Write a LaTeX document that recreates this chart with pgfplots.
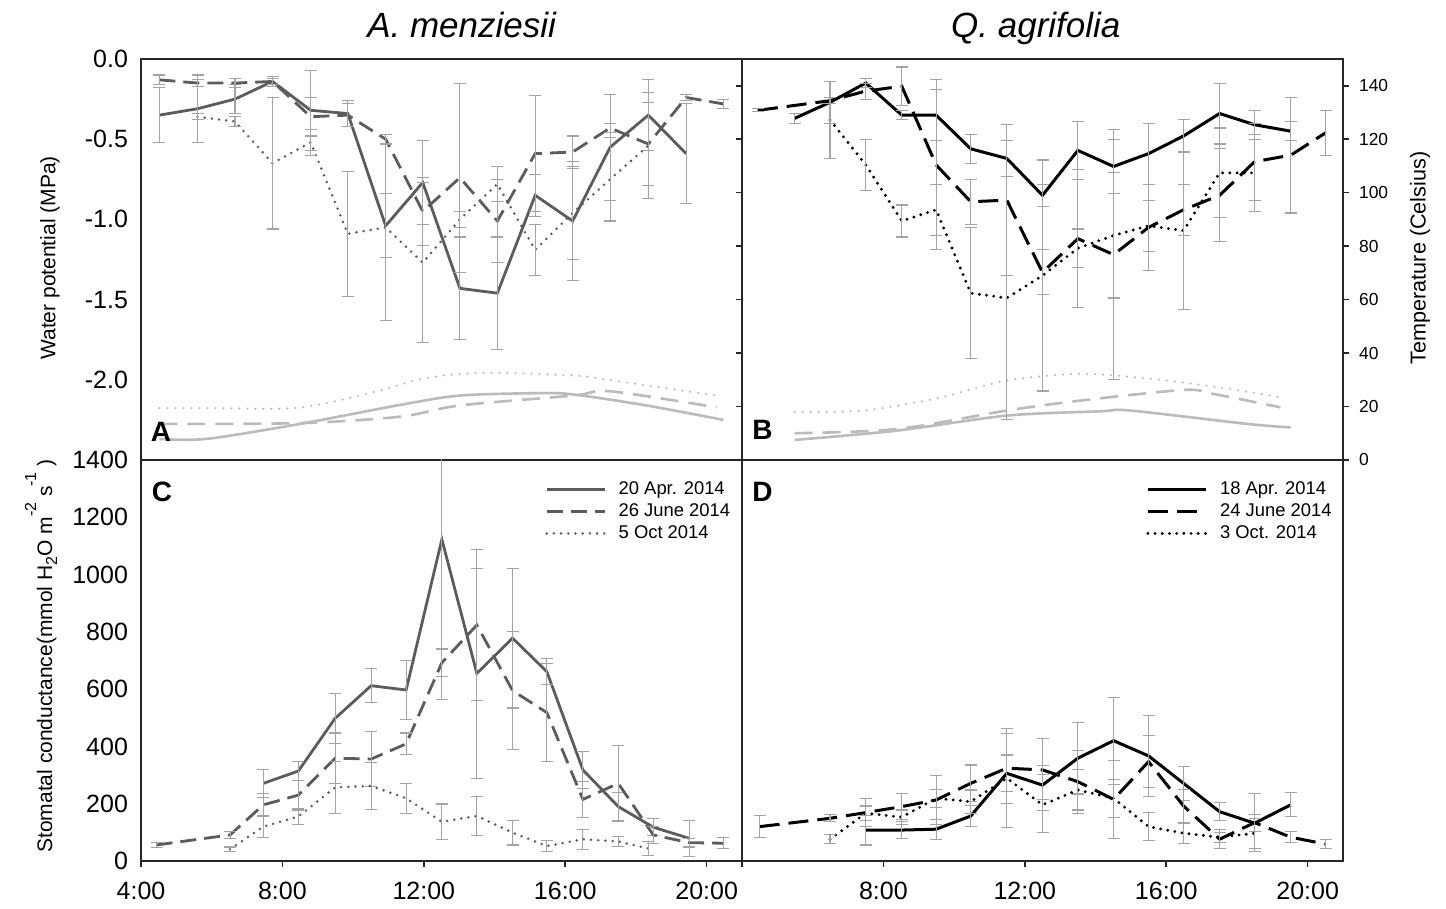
\documentclass[border=0pt]{standalone}
\usepackage{pgfplots}
\pgfplotsset{compat=1.18}
\usepackage{fontspec}
\setmainfont{Liberation Sans}
\definecolor{ln}{HTML}{5C5C5C}
\definecolor{eb}{HTML}{A4A4A4}
\definecolor{tl}{HTML}{BBBBBB}
\pgfplotsset{
  panel/.style={scale only axis, width=300.5pt, height=200.5pt, xmin=4, xmax=21,
    anchor=south west, axis line style={line width=0.9pt, black!85},
    tick style={line width=0.8pt, black!85}, major tick length=3pt, tick align=outside,
    tick label style={font=\fontsize{12.5}{14}\selectfont}},
  ebars/.style={error bars/y dir=both, error bars/y explicit,
    error bars/error bar style={color=eb, line width=0.55pt, solid},
    error bars/error mark options={rotate=90, mark size=3pt, line width=0.55pt, color=eb, solid}},
  gs/.style={ln, line width=1.4pt, ebars},
  gd/.style={ln, line width=1.4pt, dash pattern=on 8pt off 4pt, ebars},
  gt/.style={ln, line width=1.4pt, line cap=round, dash pattern=on 0pt off 3.6pt, ebars},
  ks/.style={black, line width=1.5pt, ebars},
  kd/.style={black, line width=1.5pt, dash pattern=on 10pt off 4.5pt, ebars},
  kt/.style={black, line width=1.6pt, line cap=round, dash pattern=on 0pt off 3.6pt, ebars},
  ts/.style={tl, line width=1.3pt, smooth},
  td/.style={tl, line width=1.3pt, smooth, dash pattern=on 9pt off 5pt},
  tt/.style={tl, line width=1.2pt, smooth, line cap=round, dash pattern=on 0pt off 4pt},
  leg/.style={legend style={draw=none, fill=none, at={(0.672,0.953)}, anchor=north west,
    font=\fontsize{9.2}{11}\selectfont, inner sep=0pt, row sep=0.8pt,
    nodes={inner sep=0.8pt, text height=6.7pt, text depth=1.9pt},
    /tikz/every odd column/.append style={column sep=5.5pt}},
    legend image code/.code={\draw[##1] (0pt,0pt) -- (29pt,0pt);},
    legend cell align=left},
}
\begin{document}
\begin{tikzpicture}
\path[use as bounding box] (0pt,0pt) rectangle (723pt,454.5pt);

% ---------------- Panel A -----------------
\begin{axis}[panel, at={(70.5pt,224.5pt)}, ymin=0, ymax=150, hide axis]
\addplot[tt] coordinates {(4.52,19.4) (6,19.4) (8.5,19.6) (10.76,26) (12,30.5) (13.59,32.6) (16.23,31.6) (17.36,29.7) (20.28,24.1)};
\addplot[td] coordinates {(4.52,13.5) (8.5,13.8) (11.33,16.2) (13.02,20.4) (16.23,24.1) (17.27,25.7) (20.28,19.7)};
\addplot[ts] coordinates {(4.52,7.9) (5.86,7.9) (8.5,13.5) (11.33,20.6) (13.02,24.1) (15.29,25) (16.23,24.5) (18.3,20.4) (20.47,15)};
\end{axis}
\begin{axis}[panel, at={(70.5pt,224.5pt)}, ymin=-2.5, ymax=0, xtick=\empty,
  ytick={0,-0.5,-1,-1.5,-2}, yticklabels={0.0,-0.5,-1.0,-1.5,-2.0}, ytick style={draw=none}]
\addplot[gs] coordinates {(4.52,-0.35) +- (0,0.17) (5.60,-0.31) +- (0,0.21) (6.66,-0.25) +- (0,0.09) (7.72,-0.14) +- (0,0.03) (8.80,-0.32) +- (0,0.25) (9.85,-0.34) +- (0,0.08) (10.92,-1.04) +- (0,0.20) (11.97,-0.77) +- (0,0.26) (13.02,-1.43) +- (0,0.32) (14.08,-1.46) +- (0,0.35) (15.15,-0.85) +- (0,0.13) (16.21,-1.01) +- (0,0.37) (17.27,-0.55) +- (0,0.33) (18.35,-0.35) +- (0,0.22) (19.42,-0.59) +- (0,0.31)};
\addplot[gd] coordinates {(4.52,-0.13) +- (0,0.03) (5.60,-0.15) +- (0,0.02) (6.66,-0.15) +- (0,0.03) (7.72,-0.14) +- (0,0.02) (8.80,-0.36) +- (0,0.12) (9.85,-0.35) +- (0,0.07) (10.92,-0.50) +- (0,0.03) (11.97,-0.95) +- (0,0.21) (13.02,-0.74) +- (0,0.59) (14.08,-1.01) +- (0,0.26) (15.15,-0.59) +- (0,0.36) (16.21,-0.58) +- (0,0.10) (17.27,-0.43) +- (0,0.03) (18.35,-0.53) +- (0,0.26) (19.42,-0.24) +- (0,0.02) (20.47,-0.28) +- (0,0.03)};
\addplot[gt] coordinates {(5.60,-0.36) +- (0,0.02) (6.66,-0.39) +- (0,0.03) (7.72,-0.65) +- (0,0.41) (8.80,-0.52) +- (0,0.08) (9.85,-1.09) +- (0,0.39) (10.92,-1.05) +- (0,0.58) (11.97,-1.27) +- (0,0.50) (13.02,-1.00) +- (0,0.05) (14.08,-0.78) +- (0,0.11) (15.15,-1.19) +- (0,0.16) (16.21,-0.96) +- (0,0.29) (17.27,-0.75) +- (0,0.26) (18.35,-0.54) +- (0,0.33)};
\end{axis}

% ---------------- Panel B -----------------
\begin{axis}[panel, at={(371pt,224.5pt)}, ymin=0, ymax=150, xtick=\empty,
  ytick={0,20,...,140}, yticklabels={0,20,40,60,80,100,120,140}, ytick pos=both, yticklabel pos=right,
  yticklabel style={font=\fontsize{8.7}{10}\selectfont, xshift=1.5pt}]
\addplot[tt] coordinates {(5.49,17.9) (7.43,18.5) (9.5,23) (11.49,29.7) (13.56,32.2) (15.45,30.5) (17.3,27.5) (19.23,23.5)};
\addplot[td] coordinates {(5.49,10) (8.39,11.6) (11.49,18.5) (13.56,22.2) (16.49,26.2) (17.34,24.7) (19.23,19.7)};
\addplot[ts] coordinates {(5.49,7.5) (8.39,11) (11.49,16.6) (14.13,18.2) (14.98,18.5) (18.29,13.5) (19.52,12.2)};
\end{axis}
\begin{axis}[panel, at={(371pt,224.5pt)}, ymin=-2.5, ymax=0, xtick=\empty, ytick=\empty]
\addplot[ks] coordinates {(5.49,-0.37) +- (0,0.03) (6.49,-0.27) +- (0,0.13) (7.50,-0.15) +- (0,0.03) (8.52,-0.35) +- (0,0.03) (9.49,-0.35) +- (0,0.16) (10.47,-0.56) +- (0,0.09) (11.49,-0.62) +- (0,0.11) (12.50,-0.85) +- (0,0.07) (13.50,-0.57) +- (0,0.18) (14.51,-0.67) +- (0,0.17) (15.50,-0.59) +- (0,0.19) (16.49,-0.48) +- (0,0.10) (17.51,-0.34) +- (0,0.19) (18.50,-0.41) +- (0,0.09) (19.52,-0.45) +- (0,0.06)};
\addplot[kd] coordinates {(4.45,-0.32) +- (0,0.01) (6.49,-0.26) +- (0,0.02) (7.50,-0.20) +- (0,0.05) (8.52,-0.17) +- (0,0.12) (9.49,-0.66) +- (0,0.53) (10.47,-0.89) +- (0,0.14) (11.49,-0.88) +- (0,0.47) (12.50,-1.33) +- (0,0.14) (13.50,-1.12) +- (0,0.43) (14.51,-1.22) +- (0,0.78) (15.50,-1.05) +- (0,0.27) (16.49,-0.94) +- (0,0.16) (17.51,-0.85) +- (0,0.29) (18.50,-0.64) +- (0,0.24) (19.52,-0.60) +- (0,0.36) (20.51,-0.46) +- (0,0.14)};
\addplot[kt] coordinates {(6.49,-0.38) +- (0,0.24) (7.50,-0.66) +- (0,0.16) (8.52,-1.01) +- (0,0.10) (9.49,-0.94) +- (0,0.16) (10.47,-1.46) +- (0,0.41) (11.49,-1.49) +- (0,0.76) (12.50,-1.35) +- (0,0.72) (13.50,-1.18) +- (0,0.12) (14.51,-1.10) +- (0,0.39) (15.50,-1.04) +- (0,0.16) (16.49,-1.07) +- (0,0.49) (17.51,-0.71) +- (0,0.28) (18.50,-0.71) +- (0,0.24)};
\end{axis}

% ---------------- Panel C -----------------
\begin{axis}[panel, leg, at={(70.5pt,24pt)}, ymin=0, ymax=1400,
  xtick={4,8,12,16,20}, xticklabels={4:00,8:00,12:00,16:00,20:00}, xtick pos=bottom,
  xticklabel style={yshift=-3.8pt},
  ytick={0,200,...,1400}, yticklabels={0,200,400,600,800,1000,1200,1400}, ytick style={draw=none}]
\addplot[gs] coordinates {(7.46,271) +- (0,50) (8.45,314) +- (0,32) (9.49,498) +- (0,87) (10.51,612) +- (0,60) (11.50,597) +- (0,102) (12.51,1123) +- (0,558) (13.50,655) +- (0,366) (14.51,778) +- (0,244) (15.48,661) +- (0,45) (16.50,318) +- (0,64) (17.50,190) +- (0,50) (18.49,118) +- (0,30) (19.51,79) +- (0,62)};
\addlegendentry{20 Apr. 2014}
\addplot[gd] coordinates {(4.44,56) +- (0,10) (6.52,91) +- (0,12) (7.46,196) +- (0,40) (8.45,230) +- (0,52) (9.49,359) +- (0,88) (10.51,356) +- (0,95) (11.50,409) +- (0,38) (12.51,692) +- (0,48) (13.50,824) +- (0,263) (14.51,595) +- (0,207) (15.48,518) +- (0,170) (16.50,215) +- (0,62) (17.50,271) +- (0,132) (18.49,91) +- (0,30) (19.51,64) +- (0,15) (20.47,62) +- (0,19)};
\addlegendentry{26 June 2014}
\addplot[gt] coordinates {(6.52,41) +- (0,8) (7.46,120) +- (0,37) (8.45,155) +- (0,29) (9.49,257) +- (0,90) (10.51,262) +- (0,81) (11.50,219) +- (0,53) (12.51,137) +- (0,62) (13.50,157) +- (0,68) (14.51,99) +- (0,43) (15.48,52) +- (0,20) (16.50,76) +- (0,35) (17.50,68) +- (0,18) (18.35,44) +- (0,25)};
\addlegendentry{5 Oct 2014}
\end{axis}

% ---------------- Panel D -----------------
\begin{axis}[panel, leg, at={(371pt,24pt)}, ymin=0, ymax=1400,
  xtick={4,8,12,16,20}, xticklabels={,8:00,12:00,16:00,20:00}, xtick pos=bottom,
  xticklabel style={yshift=-3.8pt}, ytick=\empty]
\addplot[ks] coordinates {(7.50,108) +- (0,52) (8.52,108) +- (0,30) (9.49,111) +- (0,35) (10.47,157) +- (0,38) (11.49,306) +- (0,64) (12.50,265) +- (0,164) (13.50,359) +- (0,125) (14.51,420) +- (0,152) (15.50,367) +- (0,141) (16.49,271) +- (0,59) (17.51,172) +- (0,31) (18.50,132) +- (0,30) (19.52,196) +- (0,42)};
\addlegendentry{18 Apr. 2014}
\addplot[kd] coordinates {(4.50,120) +- (0,39) (6.49,149) +- (0,12) (7.50,169) +- (0,50) (8.52,190) +- (0,46) (9.49,213) +- (0,87) (10.47,271) +- (0,64) (11.49,324) +- (0,122) (12.50,318) +- (0,15) (13.50,277) +- (0,110) (14.51,215) +- (0,137) (15.50,347) +- (0,90) (16.49,192) +- (0,58) (17.51,76) +- (0,33) (18.50,134) +- (0,102) (19.52,83) +- (0,20) (20.51,59) +- (0,15)};
\addlegendentry{24 June 2014}
\addplot[kt] coordinates {(6.49,76) +- (0,15) (7.50,167) +- (0,25) (8.52,153) +- (0,25) (9.49,219) +- (0,32) (10.47,207) +- (0,41) (11.49,289) +- (0,173) (12.50,196) +- (0,20) (13.50,248) +- (0,70) (14.51,219) +- (0,67) (15.50,120) +- (0,50) (16.49,97) +- (0,35) (17.51,83) +- (0,18) (18.50,97) +- (0,52)};
\addlegendentry{3 Oct. 2014}
\end{axis}

% ---------------- Texts -----------------
\node[anchor=base, font=\fontsize{17.5}{20}\selectfont\itshape] at (230.8pt,435.8pt) {A. menziesii};
\node[anchor=base, font=\fontsize{17.5}{20}\selectfont\itshape] at (517.9pt,435.8pt) {Q. agrifolia};
\node[anchor=base, rotate=90, font=\fontsize{10.5}{12}\selectfont] at (27.7pt,325.5pt) {Water potential (MPa)};
\node[anchor=base, rotate=90, font=\fontsize{10.8}{12}\selectfont] at (712.8pt,325.5pt) {Temperature (Celsius)};
\node[anchor=base, rotate=90, font=\fontsize{10.5}{12}\selectfont] at (26pt,126.5pt) {Stomatal conductance(mmol H\raisebox{-2.5pt}{\fontsize{8}{8}\selectfont 2}O m\raisebox{8pt}{\fontsize{8}{8}\selectfont -2} s\raisebox{8pt}{\fontsize{8}{8}\selectfont -1} )};
\node[anchor=base, font=\fontsize{14}{16}\selectfont\bfseries] at (80.5pt,233.5pt) {A};
\node[anchor=base, font=\fontsize{14}{16}\selectfont\bfseries] at (381.25pt,234.5pt) {B};
\node[anchor=base, font=\fontsize{14}{16}\selectfont\bfseries] at (81pt,203.5pt) {C};
\node[anchor=base, font=\fontsize{14}{16}\selectfont\bfseries] at (381.25pt,203.5pt) {D};
\end{tikzpicture}
\end{document}
